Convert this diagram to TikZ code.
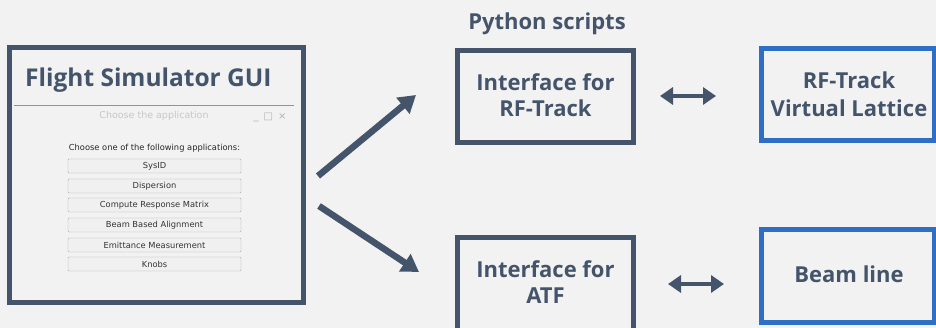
\documentclass[tikz,border=0pt]{standalone}
\usepackage{fontspec}
\setmainfont{Open Sans}
\newfontfamily\guifont{DejaVu Sans}
\usetikzlibrary{arrows.meta}
\definecolor{bg}{HTML}{F2F2F2}
\definecolor{slate}{HTML}{44546A}
\definecolor{blu}{HTML}{2E6EC4}
\definecolor{winline}{HTML}{9C9287}
\tikzset{
  darkbox/.style={draw=slate, line width=5pt, rectangle, inner sep=0pt},
  bluebox/.style={draw=blu, line width=5pt, rectangle, inner sep=0pt},
  label/.style={text=slate, font=\bfseries\fontsize{22}{27}\selectfont, align=center, inner sep=0pt},
  btn/.style={draw=black!32, fill=white!94!black, rounded corners=1pt, minimum width=173pt, minimum height=14pt, inner sep=0pt,
     font=\guifont\fontsize{8.3}{9}\selectfont, text=black!80},
  bigarrow/.style={draw=slate, line width=6.5pt, -{Triangle[length=17pt,width=20pt]}},
  dblarrow/.style={draw=slate, line width=4.5pt, {Triangle[length=13pt,width=17pt]}-{Triangle[length=13pt,width=17pt]}}
}
\begin{document}
\begin{tikzpicture}[x=1pt,y=-1pt]
\useasboundingbox (0,0) rectangle (936,328);
\fill[bg] (0,0) rectangle (936,328);
% GUI box
\node[darkbox, fill=white!95!black, minimum width=293.5pt, minimum height=255pt] (gui) at (156.25,175) {};
\node[anchor=base west, text=slate, font=\bfseries\fontsize{24.5}{30}\selectfont, inner sep=0pt] (title) at (25,87) {Flight Simulator GUI};
\coordinate (wl) at (14,105);
\coordinate (wr) at (294,105);
\draw[winline, line width=0.8pt] (wl) -- (wr);
\node[anchor=base, text=black!22, font=\guifont\fontsize{9.5}{11}\selectfont, inner sep=0pt] (wtitle) at (154,119) {Choose the application};
\node[anchor=base, text=black!30, font=\guifont\fontsize{10}{11}\selectfont, inner sep=0pt] (wctl) at (270,120) {\_\hspace{5pt}□\hspace{5pt}×};
\node[anchor=base, text=black!85, font=\guifont\fontsize{8.3}{9}\selectfont, inner sep=0pt] (prompt) at (154.5,151) {Choose one of the following applications:};
\node[btn] (b1) at (154.5,166) {SysID};
\node[btn] (b2) at (154.5,186) {Dispersion};
\node[btn] (b3) at (154.5,205) {Compute Response Matrix};
\node[btn] (b4) at (154.5,225) {Beam Based Alignment};
\node[btn] (b5) at (154.5,245) {Emittance Measurement};
\node[btn] (b6) at (154.5,264) {Knobs};
% Python scripts
\node[anchor=base, text=slate, font=\bfseries\fontsize{22}{26}\selectfont, inner sep=0pt] (py) at (547,30) {Python scripts};
% middle boxes
\node[darkbox, minimum width=176pt, minimum height=92pt] (ifrf) at (545.5,96.5) {};
\node[label, anchor=base] (ifrft) at (545.5,91) {Interface for};
\node[label, anchor=base] (ifrft2) at (545.5,117) {RF-Track};
\node[darkbox, minimum width=176pt, minimum height=110pt] (ifatf) at (545.5,292.5) {};
\node[label, anchor=base] (ifatft) at (545.5,278) {Interface for};
\node[label, anchor=base] (ifatft2) at (545.5,303) {ATF};
% right boxes
\node[bluebox, minimum width=173pt, minimum height=92pt] (rfvl) at (848,94.5) {};
\node[label, anchor=base] (rfvlt) at (849,89) {RF-Track};
\node[label, anchor=base] (rfvlt2) at (849,117) {Virtual Lattice};
\node[bluebox, minimum width=173pt, minimum height=93pt] (bl) at (847.5,276) {};
\node[label, anchor=base] (blt) at (849,283) {Beam line};
% arrows
\coordinate (a1s) at (318,176);
\coordinate (a1e) at (416,95);
\coordinate (a2s) at (319,206);
\coordinate (a2e) at (419,272);
\draw[bigarrow] (a1s) -- (a1e);
\draw[bigarrow] (a2s) -- (a2e);
\coordinate (d1s) at (660,96);
\coordinate (d1e) at (716,96);
\coordinate (d2s) at (668,284);
\coordinate (d2e) at (724,284);
\draw[dblarrow] (d1s) -- (d1e);
\draw[dblarrow] (d2s) -- (d2e);
\end{tikzpicture}
\end{document}
